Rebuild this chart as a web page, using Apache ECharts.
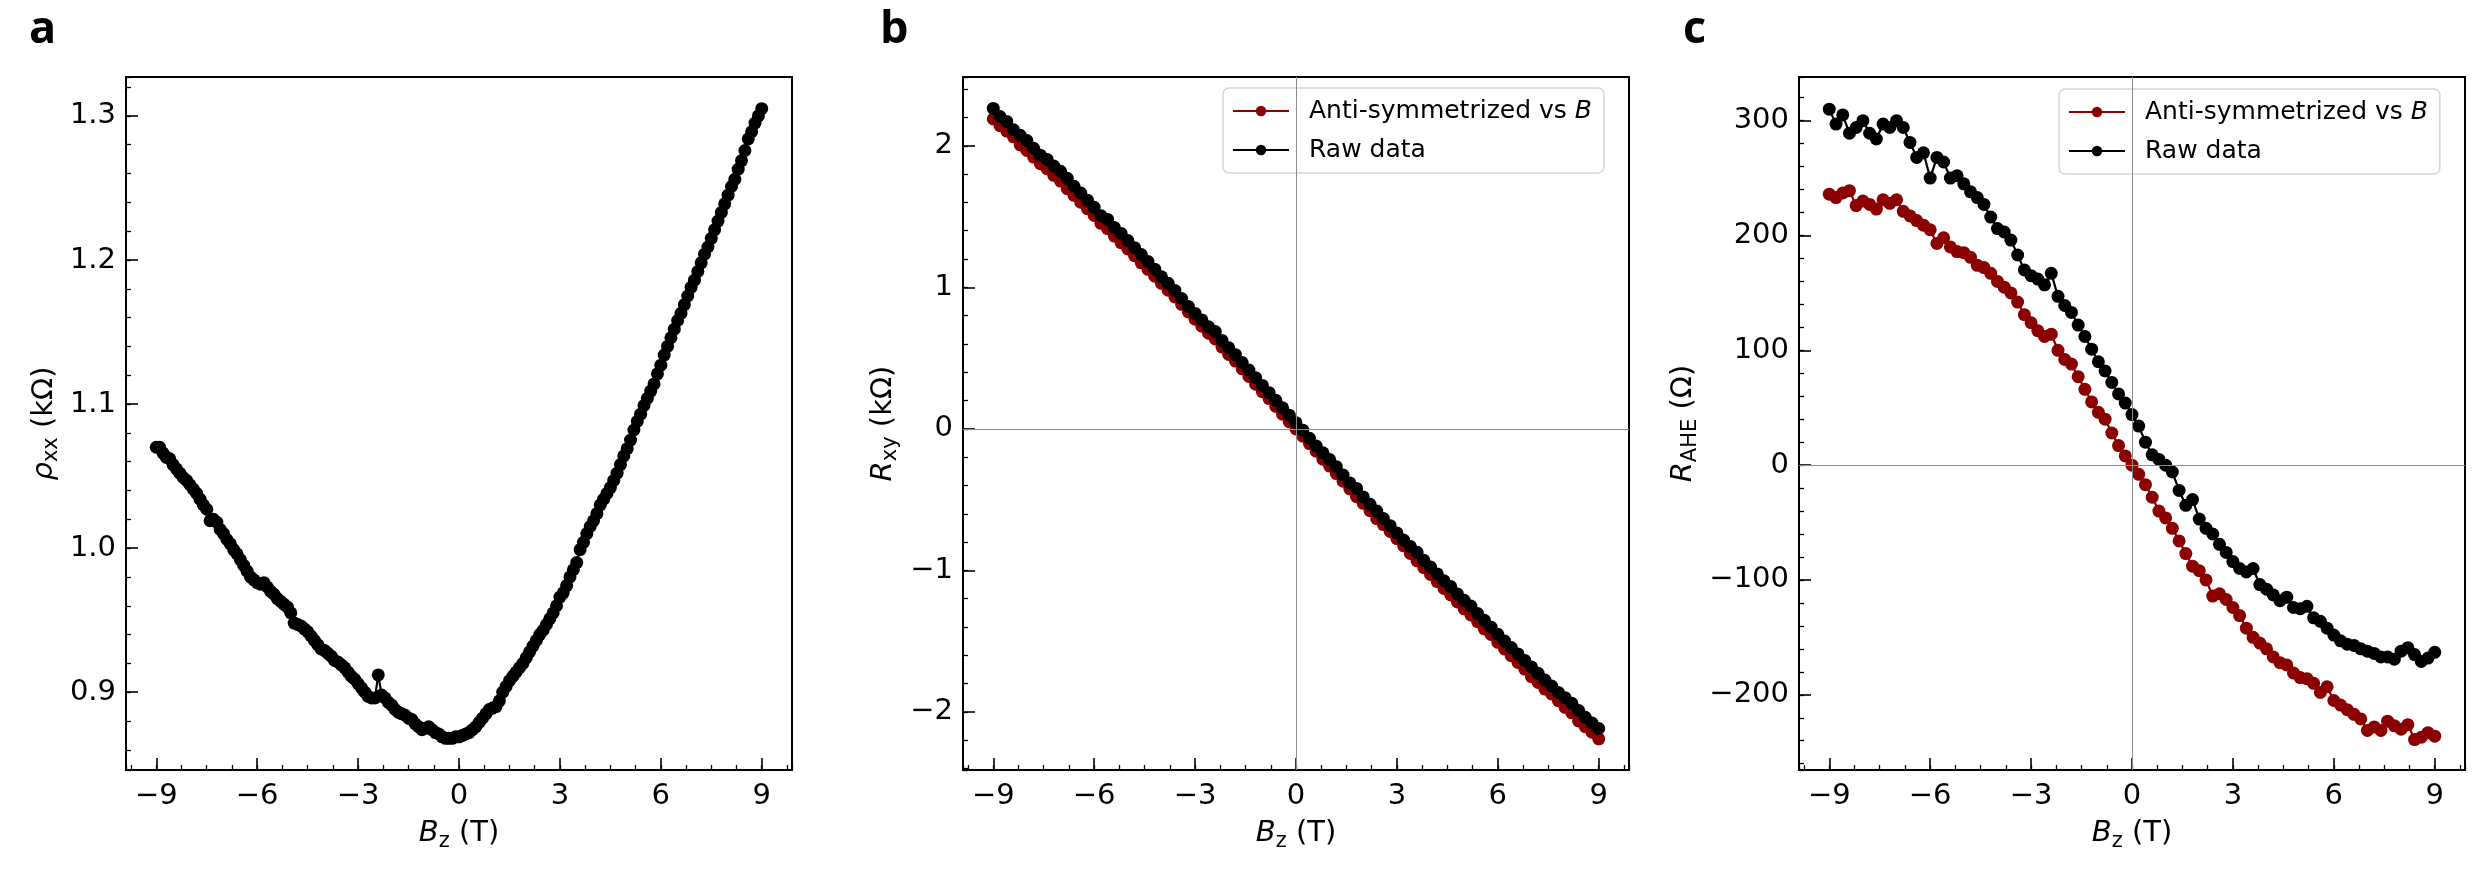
<!DOCTYPE html>
<html lang="en">
<head>
<meta charset="UTF-8">
<title>Magnetotransport: rho_xx, R_xy, R_AHE</title>
<style>
  html, body { margin: 0; padding: 0; background: #fff; }
  #main { width: 2485px; height: 888px; }
</style>
</head>
<body>
<div id="main"></div>
<script src="https://cdn.jsdelivr.net/npm/echarts@6/dist/echarts.min.js"></script>
<script>
// ---- data ----
// panel a: field sweep (T) and rho_xx (kOhm)
var fieldA = [
  -9.0,-8.9,-8.8,-8.7,-8.6,-8.5,-8.4,-8.3,-8.2,-8.1,
  -8.0,-7.9,-7.8,-7.7,-7.6,-7.5,-7.4,-7.3,-7.2,-7.1,
  -7.0,-6.9,-6.8,-6.7,-6.6,-6.5,-6.4,-6.3,-6.2,-6.1,
  -6.0,-5.9,-5.8,-5.7,-5.6,-5.5,-5.4,-5.3,-5.2,-5.1,
  -5.0,-4.9,-4.8,-4.7,-4.6,-4.5,-4.4,-4.3,-4.2,-4.1,
  -4.0,-3.9,-3.8,-3.7,-3.6,-3.5,-3.4,-3.3,-3.2,-3.1,
  -3.0,-2.9,-2.8,-2.7,-2.6,-2.5,-2.4,-2.3,-2.2,-2.1,
  -2.0,-1.9,-1.8,-1.7,-1.6,-1.5,-1.4,-1.3,-1.2,-1.1,
  -1.0,-0.9,-0.8,-0.7,-0.6,-0.5,-0.4,-0.3,-0.2,-0.1,
  0.0,0.1,0.2,0.3,0.4,0.5,0.6,0.7,0.8,0.9,
  1.0,1.1,1.2,1.3,1.4,1.5,1.6,1.7,1.8,1.9,
  2.0,2.1,2.2,2.3,2.4,2.5,2.6,2.7,2.8,2.9,
  3.0,3.1,3.2,3.3,3.4,3.5,3.6,3.7,3.8,3.9,
  4.0,4.1,4.2,4.3,4.4,4.5,4.6,4.7,4.8,4.9,
  5.0,5.1,5.2,5.3,5.4,5.5,5.6,5.7,5.8,5.9,
  6.0,6.1,6.2,6.3,6.4,6.5,6.6,6.7,6.8,6.9,
  7.0,7.1,7.2,7.3,7.4,7.5,7.6,7.7,7.8,7.9,
  8.0,8.1,8.2,8.3,8.4,8.5,8.6,8.7,8.8,8.9,
  9.0
];
var rhoXX = [
  1.070,1.070,1.066,1.063,1.062,1.058,1.055,1.052,1.049,1.047,
  1.044,1.041,1.038,1.034,1.030,1.027,1.019,1.020,1.018,1.013,
  1.010,1.006,1.003,0.999,0.996,0.992,0.988,0.984,0.980,0.978,
  0.976,0.975,0.976,0.973,0.970,0.968,0.965,0.963,0.961,0.959,
  0.955,0.948,0.947,0.946,0.944,0.942,0.939,0.936,0.933,0.930,
  0.929,0.927,0.925,0.922,0.921,0.919,0.917,0.914,0.911,0.909,
  0.906,0.903,0.900,0.897,0.896,0.896,0.912,0.898,0.896,0.893,
  0.891,0.888,0.886,0.885,0.884,0.882,0.881,0.878,0.876,0.874,
  0.875,0.876,0.874,0.872,0.871,0.869,0.868,0.868,0.868,0.869,
  0.869,0.870,0.871,0.872,0.874,0.876,0.879,0.882,0.885,0.888,
  0.889,0.890,0.894,0.900,0.904,0.908,0.911,0.914,0.917,0.920,
  0.924,0.928,0.932,0.936,0.940,0.943,0.947,0.951,0.955,0.960,
  0.966,0.969,0.974,0.980,0.985,0.990,0.999,1.004,1.010,1.015,
  1.019,1.024,1.030,1.034,1.038,1.042,1.047,1.052,1.058,1.064,
  1.069,1.075,1.082,1.088,1.093,1.099,1.104,1.109,1.114,1.121,
  1.127,1.134,1.140,1.146,1.152,1.158,1.163,1.169,1.175,1.181,
  1.186,1.192,1.198,1.204,1.209,1.215,1.221,1.227,1.233,1.239,
  1.245,1.251,1.256,1.263,1.269,1.276,1.284,1.289,1.295,1.300,
  1.305
];

// panels b and c: field sweep (T)
var field = [
  -9.0,-8.8,-8.6,-8.4,-8.2,-8.0,-7.8,-7.6,-7.4,-7.2,
  -7.0,-6.8,-6.6,-6.4,-6.2,-6.0,-5.8,-5.6,-5.4,-5.2,
  -5.0,-4.8,-4.6,-4.4,-4.2,-4.0,-3.8,-3.6,-3.4,-3.2,
  -3.0,-2.8,-2.6,-2.4,-2.2,-2.0,-1.8,-1.6,-1.4,-1.2,
  -1.0,-0.8,-0.6,-0.4,-0.2,0.0,0.2,0.4,0.6,0.8,
  1.0,1.2,1.4,1.6,1.8,2.0,2.2,2.4,2.6,2.8,
  3.0,3.2,3.4,3.6,3.8,4.0,4.2,4.4,4.6,4.8,
  5.0,5.2,5.4,5.6,5.8,6.0,6.2,6.4,6.6,6.8,
  7.0,7.2,7.4,7.6,7.8,8.0,8.2,8.4,8.6,8.8,
  9.0
];
// R_xy (kOhm)
var rxyAnti = [
  2.190,2.143,2.104,2.063,2.006,1.967,1.920,1.873,1.838,1.791,
  1.751,1.697,1.650,1.602,1.555,1.508,1.452,1.414,1.362,1.315,
  1.271,1.223,1.173,1.127,1.079,1.028,0.980,0.932,0.880,0.826,
  0.775,0.725,0.676,0.635,0.578,0.526,0.479,0.424,0.370,0.316,
  0.263,0.214,0.158,0.104,0.051,0.000,-0.051,-0.104,-0.158,-0.214,
  -0.263,-0.316,-0.370,-0.424,-0.479,-0.526,-0.578,-0.635,-0.676,-0.725,
  -0.775,-0.826,-0.880,-0.932,-0.980,-1.028,-1.079,-1.127,-1.173,-1.223,
  -1.271,-1.315,-1.362,-1.414,-1.452,-1.508,-1.555,-1.602,-1.650,-1.697,
  -1.751,-1.791,-1.838,-1.873,-1.920,-1.967,-2.006,-2.063,-2.104,-2.143,
  -2.190
];
var rxyRaw = [
  2.264,2.207,2.172,2.113,2.074,2.037,1.982,1.934,1.904,1.857,
  1.820,1.770,1.714,1.666,1.616,1.565,1.506,1.480,1.422,1.381,
  1.331,1.280,1.232,1.182,1.128,1.074,1.028,0.978,0.921,0.865,
  0.816,0.770,0.721,0.688,0.625,0.573,0.524,0.469,0.416,0.362,
  0.307,0.256,0.202,0.149,0.097,0.044,-0.009,-0.067,-0.121,-0.169,
  -0.217,-0.267,-0.326,-0.382,-0.421,-0.481,-0.533,-0.581,-0.633,-0.684,
  -0.735,-0.785,-0.831,-0.872,-0.929,-0.976,-1.025,-1.073,-1.114,-1.166,
  -1.211,-1.252,-1.305,-1.352,-1.401,-1.451,-1.499,-1.545,-1.590,-1.636,
  -1.682,-1.727,-1.774,-1.817,-1.862,-1.899,-1.939,-1.989,-2.038,-2.078,
  -2.117
];
// R_AHE (Ohm)
var aheAnti = [
  236,233,237,239,226,230,227,223,231,228,
  231,221,217,213,209,205,193,198,190,186,
  185,181,174,172,167,160,155,150,142,131,
  124,117,112,114,100,92,88,77,66,55,
  46,40,28,17,8,0,-8,-17,-28,-40,
  -46,-55,-66,-77,-88,-92,-100,-114,-112,-117,
  -124,-131,-142,-150,-155,-160,-167,-172,-174,-181,
  -185,-186,-190,-198,-193,-205,-209,-213,-217,-221,
  -231,-228,-231,-223,-227,-230,-226,-239,-237,-233,
  -236
];
var aheRaw = [
  310,297,305,289,294,300,289,284,297,294,
  300,294,281,268,272,250,268,264,250,252,
  245,238,233,227,216,206,203,196,183,170,
  165,162,157,167,147,139,133,122,112,101,
  90,82,72,62,54,44,34,20,9,5,
  0,-6,-22,-35,-30,-47,-55,-60,-69,-76,
  -84,-90,-93,-90,-104,-108,-113,-118,-115,-124,
  -125,-123,-133,-136,-142,-148,-153,-156,-157,-160,
  -162,-164,-167,-167,-169,-162,-159,-165,-171,-168,
  -163
];

// tick labels
var fieldTicks = [-9, -6, -3, 0, 3, 6, 9];
var rhoTicks = [0.9, 1.0, 1.1, 1.2, 1.3];
var rxyTicks = [-2, -1, 0, 1, 2];
var aheTicks = [-200, -100, 0, 100, 200, 300];

var ANTI = 'Anti-symmetrized vs B';
var RAW = 'Raw data';
var RED = '#8b0000';
var FONT = 'DejaVu Sans';

function pairs(xs, ys) {
  return xs.map(function (x, i) { return [x, ys[i]]; });
}

function tickFormatter(ticks, digits) {
  return function (v) {
    var hit = ticks.some(function (t) { return Math.abs(t - v) < 1e-6; });
    if (!hit) return '';
    var s = Math.abs(v).toFixed(digits);
    return (v < -1e-9 ? '\u2212' : '') + s;
  };
}

var nameStyle = {
  fontFamily: FONT, fontSize: 29, color: '#000', lineHeight: 36,
  rich: {
    i: { fontFamily: FONT, fontSize: 29, fontStyle: 'italic', color: '#000' },
    s: { fontFamily: FONT, fontSize: 21, color: '#000', verticalAlign: 'bottom' }
  }
};

// main axis (long ticks + labels) and a twin carrying the minor ticks
function axisPair(kind, g, range, major, minor, ticks, digits, name, gap) {
  var pos = kind === 'x' ? 'bottom' : 'left';
  var main = {
    type: 'value', gridIndex: g, position: pos,
    min: range[0], max: range[1], minInterval: major, maxInterval: major,
    axisLine: { show: true, onZero: false, lineStyle: { color: '#000', width: 2 } },
    axisTick: { show: true, inside: true, length: 12, customValues: ticks,
      lineStyle: { color: '#000', width: 1.6 } },
    axisLabel: { show: true, customValues: ticks, margin: kind === 'x' ? 12 : 10,
      color: '#000', fontSize: 29, fontFamily: FONT, formatter: tickFormatter(ticks, digits) },
    splitLine: { show: false },
    name: name, nameLocation: 'middle', nameGap: gap, nameTextStyle: nameStyle
  };
  var sub = {
    type: 'value', gridIndex: g, position: pos,
    min: range[0], max: range[1], minInterval: minor, maxInterval: minor,
    axisLine: { show: false, onZero: false },
    axisTick: { show: true, inside: true, length: 5, lineStyle: { color: '#000', width: 1.3 } },
    axisLabel: { show: false },
    splitLine: { show: false }
  };
  return [main, sub];
}

var xAxes = [].concat(
  axisPair('x', 0, [-9.9, 9.9], 3, 0.75, fieldTicks, 0, '{i|B}{s|z} (T)', 44),
  axisPair('x', 1, [-9.9, 9.9], 3, 0.75, fieldTicks, 0, '{i|B}{s|z} (T)', 44),
  axisPair('x', 2, [-9.9, 9.9], 3, 0.75, fieldTicks, 0, '{i|B}{s|z} (T)', 44)
);
var yAxes = [].concat(
  axisPair('y', 0, [0.846, 1.327], 0.1, 0.02, rhoTicks, 1, '{i|\u03c1}{s|xx} (k\u03a9)', 64),
  axisPair('y', 1, [-2.41, 2.486], 1, 0.2, rxyTicks, 0, '{i|R}{s|xy} (k\u03a9)', 62),
  axisPair('y', 2, [-265.5, 338], 100, 20, aheTicks, 0, '{i|R}{s|AHE} (\u03a9)', 98)
);

function gridBox(left) {
  return { left: left, top: 77, width: 666, height: 693, show: true,
    borderColor: '#000', borderWidth: 2, backgroundColor: 'transparent',
    containLabel: false, outerBoundsMode: 'none' };
}

function dataSeries(name, xi, xs, ys, color, extra) {
  var s = {
    type: 'line', name: name, xAxisIndex: xi, yAxisIndex: xi,
    data: pairs(xs, ys), symbol: 'circle', symbolSize: 13, showSymbol: true,
    itemStyle: { color: color }, lineStyle: { color: color, width: 2.2 },
    emphasis: { disabled: true }, animation: false
  };
  for (var k in extra) s[k] = extra[k];
  return s;
}

var zeroLines = {
  silent: true, symbol: 'none', label: { show: false },
  lineStyle: { color: '#8c8c8c', width: 1, type: 'solid' },
  data: [{ xAxis: 0 }, { yAxis: 0 }]
};

function legendBox(left, top) {
  return {
    orient: 'vertical', left: left, top: top, data: [ANTI, RAW],
    selectedMode: false, itemWidth: 56, itemHeight: 13, itemGap: 9,
    padding: [8, 12, 8, 9],
    borderColor: '#d6d6d6', borderWidth: 1.5, borderRadius: 6,
    backgroundColor: 'rgba(255,255,255,0.8)',
    formatter: function (name) {
      return name === ANTI ? 'Anti-symmetrized vs {i|B}' : name;
    },
    textStyle: {
      fontFamily: FONT, fontSize: 25, color: '#000', lineHeight: 30, padding: [0, 0, 0, 15],
      rich: { i: { fontFamily: FONT, fontSize: 25, fontStyle: 'italic', color: '#000' } }
    }
  };
}

function panelLetter(text, left) {
  return { type: 'text', left: left, top: 8, silent: true,
    style: { text: text, fontFamily: 'Open Sans', fontWeight: 'bold', fontSize: 45, fill: '#000' } };
}

var chart = echarts.init(document.getElementById('main'));
chart.setOption({
  animation: false,
  backgroundColor: '#fff',
  textStyle: { fontFamily: FONT },
  grid: [gridBox(126), gridBox(963), gridBox(1799)],
  xAxis: xAxes,
  yAxis: yAxes,
  legend: [legendBox(1223, 88), legendBox(2059, 89)],
  graphic: [panelLetter('a', 29), panelLetter('b', 880), panelLetter('c', 1683)],
  series: [
    dataSeries('rho_xx', 0, fieldA, rhoXX, '#000', {}),
    dataSeries(ANTI, 2, field, rxyAnti, RED, { markLine: zeroLines }),
    dataSeries(RAW, 2, field, rxyRaw, '#000', {}),
    dataSeries(ANTI, 4, field, aheAnti, RED, { markLine: zeroLines }),
    dataSeries(RAW, 4, field, aheRaw, '#000', {})
  ]
});
</script>
</body>
</html>
